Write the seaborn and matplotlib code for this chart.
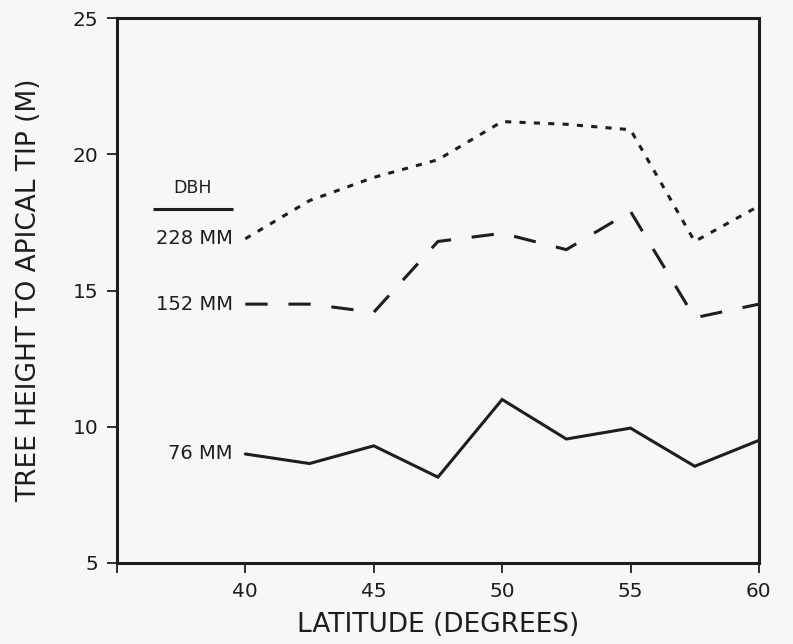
import matplotlib
matplotlib.use("Agg")
import matplotlib.pyplot as plt
import numpy as np
import pandas as pd
import seaborn as sns

# Latitude (degrees) and tree height to apical tip (m) for three DBH classes
latitude = [40, 42.5, 45, 47.5, 50, 52.5, 55, 57.5, 60]
height_228mm = [16.9, 18.3, 19.15, 19.8, 21.2, 21.1, 20.9, 16.8, 18.1]
height_152mm = [14.5, 14.5, 14.2, 16.8, 17.1, 16.5, 17.9, 14.0, 14.5]
height_76mm = [9.0, 8.65, 9.3, 8.15, 11.0, 9.55, 9.95, 8.55, 9.5]

dbh_labels = ["228 MM", "152 MM", "76 MM"]
x_ticks = [35, 40, 45, 50, 55, 60]
x_tick_labels = ["", "40", "45", "50", "55", "60"]
y_ticks = [5, 10, 15, 20, 25]

df = pd.concat([
    pd.DataFrame({"lat": latitude, "height": h, "dbh": lab})
    for h, lab in zip([height_228mm, height_152mm, height_76mm], dbh_labels)
])

sns.set_style("ticks")
plt.rcParams["font.family"] = ["DejaVu Sans"]

bg = "#f7f7f7"
ink = "#1e1e1e"

fig = plt.figure(figsize=(7.93, 6.44), dpi=100, facecolor=bg)
ax = fig.add_axes([0.1475, 0.1258, 0.957 - 0.1475, 0.972 - 0.1258])
ax.set_facecolor(bg)

sns.lineplot(
    data=df, x="lat", y="height", style="dbh", style_order=dbh_labels,
    dashes={"228 MM": (2.0, 2.7), "152 MM": (7.3, 6.8), "76 MM": ""},
    color=ink, linewidth=2.2, legend=False, ax=ax, clip_on=False,
)
for line in ax.get_lines():
    line.set_dash_capstyle("butt")
    line.set_solid_joinstyle("miter")

ax.set_xlim(35, 60)
ax.set_ylim(5, 25)
ax.set_xticks(x_ticks)
ax.set_xticklabels(x_tick_labels)
ax.set_yticks(y_ticks)

for side in ["left", "right", "top", "bottom"]:
    ax.spines[side].set_visible(True)
    ax.spines[side].set_linewidth(2.2)
    ax.spines[side].set_color(ink)

ax.tick_params(axis="both", direction="out", length=7.5, width=1.3,
               color=ink, labelsize=14.5, labelcolor=ink, pad=6)

ax.set_xlabel("LATITUDE (DEGREES)", fontsize=19, color=ink, labelpad=8)
ax.set_ylabel("TREE HEIGHT TO APICAL TIP (M)", fontsize=19, color=ink, labelpad=22)

# Series labels placed at the start of each line
for h, lab in zip([height_228mm, height_152mm, height_76mm], dbh_labels):
    ax.text(39.5, h[0], lab, ha="right", va="center", fontsize=14, color=ink)

# Key heading
ax.text(37.95, 18.45, "DBH", ha="center", va="bottom", fontsize=12.5, color=ink)
ax.plot([36.4, 39.5], [18.0, 18.0], color=ink, linewidth=2.2, solid_capstyle="butt")

fig.savefig("out.png", dpi=100, facecolor=bg)
